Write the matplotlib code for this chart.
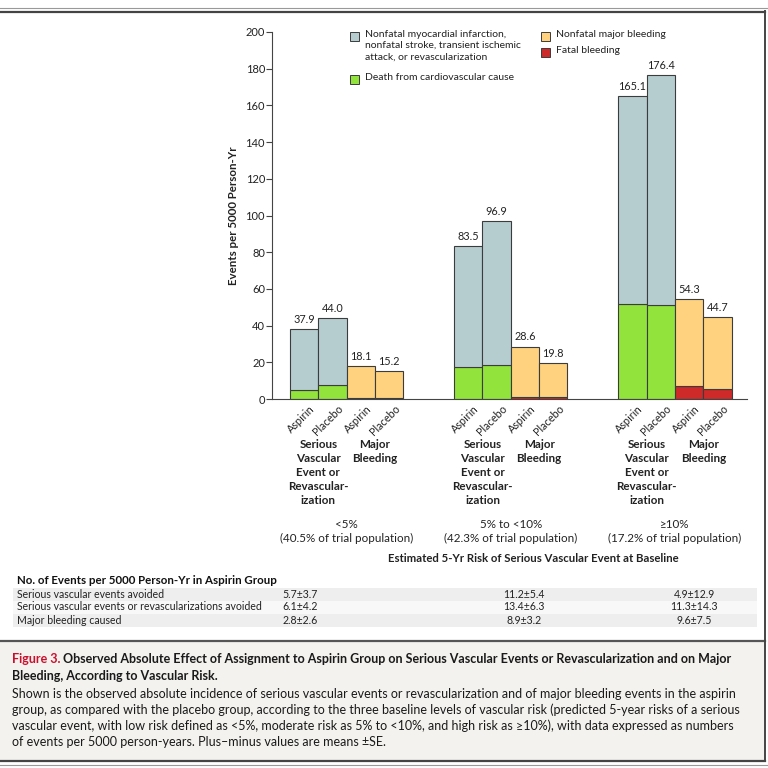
import numpy as np
import matplotlib
matplotlib.use('Agg')
import matplotlib.pyplot as plt
import matplotlib.transforms as mtransforms
from matplotlib.patches import Rectangle

plt.rcParams['font.family'] = ['Lato', 'DejaVu Sans']

# 数据：三个风险组
risk_groups = ['<5%', '5% to <10%', '\u226510%']
population = ['(40.5% of trial population)', '(42.3% of trial population)',
              '(17.2% of trial population)']

sve_total_aspirin = [37.9, 83.5, 165.1]
sve_total_placebo = [44.0, 96.9, 176.4]
sve_death_aspirin = [4.7, 17.3, 51.8]
sve_death_placebo = [7.5, 18.4, 51.1]

bleed_total_aspirin = [18.1, 28.6, 54.3]
bleed_total_placebo = [15.2, 19.8, 44.7]
bleed_fatal_aspirin = [0.5, 1.1, 7.2]
bleed_fatal_placebo = [0.4, 1.1, 5.5]

arm_labels = ['Aspirin', 'Placebo', 'Aspirin', 'Placebo']

table_title = 'No. of Events per 5000 Person-Yr in Aspirin Group'
table_rows = ['Serious vascular events avoided',
              'Serious vascular events or revascularizations avoided',
              'Major bleeding caused']
table_values = [['5.7\u00b13.7', '11.2\u00b15.4', '4.9\u00b112.9'],
                ['6.1\u00b14.2', '13.4\u00b16.3', '11.3\u00b114.3'],
                ['2.8\u00b12.6', '8.9\u00b13.2', '9.6\u00b17.5']]

c_grey = '#b6cdd0'
c_green = '#92e33c'
c_orange = '#fed27f'
c_red = '#cf2a2a'
c_edge = '#3c3c3c'

fig = plt.figure(figsize=(7.68, 7.68), dpi=100)

# 像素坐标的背景层
fx = fig.add_axes([0, 0, 1, 1])
fx.set_xlim(0, 768)
fx.set_ylim(768, 0)
fx.axis('off')
fx.set_zorder(0)

ax = fig.add_axes([272 / 768, 1 - 399 / 768, 475 / 768, 367 / 768])
ax.set_zorder(1)
ax.patch.set_alpha(0)
ax.set_xlim(0, 16.78)
ax.set_ylim(0, 200)

# 画柱子
centers = []
for g in range(3):
    start = 0.636 + 5.80 * g
    xs = start + np.arange(4) + 0.5
    centers.extend(xs)
    bottoms = [sve_death_aspirin[g], sve_death_placebo[g],
               bleed_fatal_aspirin[g], bleed_fatal_placebo[g]]
    totals = [sve_total_aspirin[g], sve_total_placebo[g],
              bleed_total_aspirin[g], bleed_total_placebo[g]]
    low_c = [c_green, c_green, c_red, c_red]
    top_c = [c_grey, c_grey, c_orange, c_orange]
    for i in range(4):
        ax.bar(xs[i], bottoms[i], width=1.0, color=low_c[i], edgecolor=c_edge, linewidth=0.8)
        ax.bar(xs[i], totals[i] - bottoms[i], bottom=bottoms[i], width=1.0,
               color=top_c[i], edgecolor=c_edge, linewidth=0.8)
        ax.text(xs[i], totals[i] + 2.2, '%.1f' % totals[i], ha='center', va='bottom',
                fontsize=7.8, color='#222222')

ax.spines['top'].set_visible(False)
ax.spines['right'].set_visible(False)
ax.spines['left'].set_color('#444444')
ax.spines['bottom'].set_color('#444444')
ax.set_yticks(np.arange(0, 201, 20))
ax.tick_params(axis='y', length=4, width=0.8, color='#444444', labelsize=8, pad=1,
               labelcolor='#222222')
ax.set_xticks(centers)
ax.set_xticklabels(arm_labels * 3, rotation=45, ha='right', rotation_mode='anchor',
                   fontsize=7.8, color='#222222')
ax.tick_params(axis='x', length=0, pad=3)
# 标签整体右移几个像素
shift = mtransforms.ScaledTranslation(5 / 100, 0, fig.dpi_scale_trans)
for lab in ax.get_xticklabels():
    lab.set_transform(lab.get_transform() + shift)
ax.set_ylabel('Events per 5000 Person-Yr', fontsize=8.3, fontweight='bold', labelpad=5,
              color='#222222')

# x 用数据坐标，y 用像素
tr = mtransforms.blended_transform_factory(ax.transData, fx.transData)
for g in range(3):
    start = 0.636 + 5.80 * g
    fx.text(start + 1.0, 439, 'Serious\nVascular\nEvent or\nRevascular-\nization', transform=tr,
            ha='center', va='top', fontsize=8.4, fontweight='bold', linespacing=1.33,
            color='#222222')
    fx.text(start + 3.0, 439, 'Major\nBleeding', transform=tr, ha='center', va='top',
            fontsize=8.4, fontweight='bold', linespacing=1.33, color='#222222')
    fx.text(start + 2.0, 524, risk_groups[g], transform=tr, ha='center', va='center',
            fontsize=8.4, color='#222222')
    fx.text(start + 2.0, 538, population[g], transform=tr, ha='center', va='center',
            fontsize=8.4, color='#222222')
fx.text(533, 558, 'Estimated 5-Yr Risk of Serious Vascular Event at Baseline',
        ha='center', va='center', fontsize=8.2, fontweight='bold', color='#222222')

# 图例
legend_items = [
    (350, 36.5, c_grey, 'Nonfatal myocardial infarction,\nnonfatal stroke, transient ischemic\nattack, or revascularization'),
    (350, 79.5, c_green, 'Death from cardiovascular cause'),
    (541, 36.5, c_orange, 'Nonfatal major bleeding'),
    (541, 52.5, c_red, 'Fatal bleeding'),
]
for x0, y0, col, lab in legend_items:
    fx.add_patch(Rectangle((x0, y0 - 4.5), 9, 9, facecolor=col, edgecolor=c_edge, linewidth=0.7))
    fx.text(x0 + 15, y0 - 6.5, lab, ha='left', va='top', fontsize=7.5, linespacing=1.3,
            color='#222222')

# 表格
fx.text(17, 581, table_title, ha='left', va='center', fontsize=8.3, fontweight='bold',
        color='#111111')
row_y = [594, 607, 620]
row_bg = ['#eeeeee', '#f8f8f8', '#eeeeee']
col_x = [300, 524, 694]
for r in range(3):
    fx.add_patch(Rectangle((13, row_y[r] - 6.5), 744, 13, facecolor=row_bg[r], edgecolor='none'))
    fx.text(17, row_y[r], table_rows[r], ha='left', va='center', fontsize=7.6, color='#222222')
    for c in range(3):
        fx.text(col_x[c], row_y[r], table_values[r][c], ha='center', va='center',
                fontsize=7.6, color='#222222')

# 图注框
fx.add_patch(Rectangle((0, 642), 765, 118, facecolor='#f4f2ee', edgecolor='none'))
fx.plot([0, 765], [641, 641], color='#555555', linewidth=1.6)
fx.plot([0, 768], [7.5, 7.5], color='#999999', linewidth=0.8)
fx.plot([0, 765], [11.5, 11.5], color='#444444', linewidth=1.6)
fx.plot([765, 765], [11, 761], color='#444444', linewidth=1.4)
fx.plot([0, 765], [761, 761], color='#444444', linewidth=1.6)
fx.plot([0, 768], [764.5, 764.5], color='#999999', linewidth=0.8)

t1 = fx.text(12, 659, 'Figure 3.', ha='left', va='center', fontsize=9, fontweight='bold',
             color='#c8102e')
fx.annotate(' Observed Absolute Effect of Assignment to Aspirin Group on Serious Vascular Events '
            'or Revascularization and on Major', xy=(1, 0.5), xycoords=t1, ha='left',
            va='center', fontsize=9, fontweight='bold', color='#1a1a1a')
fx.text(12, 676, 'Bleeding, According to Vascular Risk.', ha='left', va='center', fontsize=9,
        fontweight='bold', color='#1a1a1a')
body = ['Shown is the observed absolute incidence of serious vascular events or revascularization '
        'and of major bleeding events in the aspirin',
        'group, as compared with the placebo group, according to the three baseline levels of '
        'vascular risk (predicted 5-year risks of a serious',
        'vascular event, with low risk defined as <5%, moderate risk as 5% to <10%, and high risk '
        'as \u226510%), with data expressed as numbers',
        'of events per 5000 person-years. Plus\u2013minus values are means \u00b1SE.']
for k, line in enumerate(body):
    fx.text(12, 694 + 16 * k, line, ha='left', va='center', fontsize=9, color='#1a1a1a')

fig.savefig('out.png', dpi=100)
